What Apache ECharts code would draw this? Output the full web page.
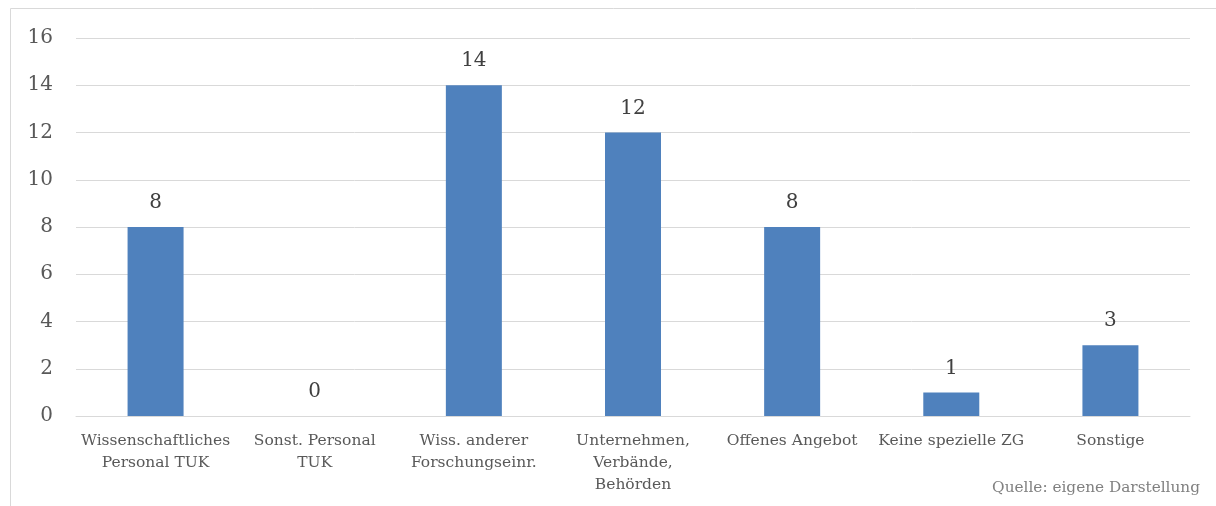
<!DOCTYPE html>
<html><head><meta charset="utf-8">
<script src="https://cdn.jsdelivr.net/npm/echarts@6/dist/echarts.min.js"></script>
<style>html,body{margin:0;padding:0;background:#fff}#c{width:1216px;height:506px}</style>
</head><body><div id="c"></div>
<script>
const categories = ["Wissenschaftliches\nPersonal TUK", "Sonst. Personal\nTUK", "Wiss. anderer\nForschungseinr.", "Unternehmen,\nVerbände,\nBehörden", "Offenes Angebot", "Keine spezielle ZG", "Sonstige"];
const values = [8, 0, 14, 12, 8, 1, 3];
const sourceText = "Quelle: eigene Darstellung";
const FONT = "'DejaVu Serif', serif";
const chart = echarts.init(document.getElementById('c'));
chart.setOption({
  animation: false,
  grid: {left: 76, right: 26, top: 38, bottom: 90, containLabel: false},
  graphic: [
    {type: 'rect', shape: {x: 10.5, y: 8.5, width: 1230, height: 520}, style: {fill: 'none', stroke: '#d9d9d9', lineWidth: 1}},
    {type: 'text', right: 16, top: 481, style: {text: sourceText, font: "15.3px " + FONT, fill: '#808080'}}
  ],
  xAxis: {
    type: 'category', data: categories,
    axisLine: {lineStyle: {color: '#d9d9d9', width: 1}},
    axisTick: {show: false},
    axisLabel: {interval: 0, color: '#595959', fontFamily: FONT, fontSize: 15.5, lineHeight: 22, margin: 14}
  },
  yAxis: {
    type: 'value', min: 0, max: 16, interval: 2,
    axisLine: {show: false}, axisTick: {show: false},
    splitLine: {lineStyle: {color: '#d9d9d9', width: 1}},
    axisLabel: {color: '#595959', fontFamily: FONT, fontSize: 20, margin: 23}
  },
  series: [{
    type: 'bar', data: values, barWidth: 56, itemStyle: {color: '#4f81bd'},
    label: {show: true, position: 'top', distance: 14, color: '#404040', fontFamily: FONT, fontSize: 20}
  }]
});
</script></body></html>
